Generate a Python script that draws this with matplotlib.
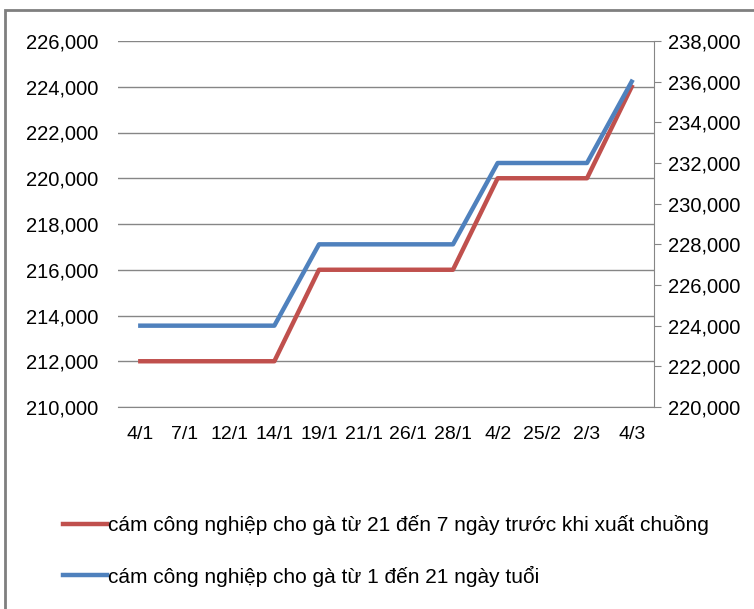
import matplotlib.pyplot as plt
from matplotlib.patches import Rectangle

dates = ['4/1', '7/1', '12/1', '14/1', '19/1', '21/1', '26/1', '28/1', '4/2', '25/2', '2/3', '4/3']
gia_21_7 = [212000, 212000, 212000, 212000, 216000, 216000, 216000, 216000, 220000, 220000, 220000, 224000]
gia_1_21 = [224000, 224000, 224000, 224000, 228000, 228000, 228000, 228000, 232000, 232000, 232000, 236000]

plt.rcParams['font.family'] = ['Liberation Sans', 'DejaVu Sans']

red = '#C0504D'
blue = '#4F81BD'
grey = '#868686'

fig = plt.figure(figsize=(7.54, 6.09), dpi=100)
fig.patches.append(Rectangle((5/754, -0.1), 1.2, 1 - 10/609 + 0.1, transform=fig.transFigure,
                             fill=False, edgecolor='#7f7f7f', linewidth=2))

ax = fig.add_axes([118/754, 1 - 407/609, 536/754, 366/609])
ax2 = ax.twinx()
x = list(range(len(dates)))

ax.plot(x, gia_21_7, color=red, linewidth=3.2, label='cám công nghiệp cho gà từ 21 đến 7 ngày trước khi xuất chuồng')
ax2.plot(x, gia_1_21, color=blue, linewidth=3.2, label='cám công nghiệp cho gà từ 1 đến 21 ngày tuổi')

ax.set_xlim(-0.5, 11.5)
ax.set_ylim(210000, 226000)
ax2.set_ylim(220000, 238000)
ax.set_yticks(range(210000, 226001, 2000))
ax2.set_yticks(range(220000, 238001, 2000))
ax.set_yticklabels([f'{v:,}' for v in range(210000, 226001, 2000)])
ax2.set_yticklabels([f'{v:,}' for v in range(220000, 238001, 2000)])
ax.set_xticks(x)
ax.set_xticklabels(dates)

ax.grid(axis='y', color=grey, linewidth=1)
ax.set_axisbelow(True)
for a in (ax, ax2):
    for s in ['top', 'left', 'bottom']:
        a.spines[s].set_visible(False)
ax.spines['right'].set_visible(False)
ax.spines['bottom'].set_visible(True)
ax.spines['bottom'].set_color(grey)
ax2.spines['right'].set_color(grey)
ax.tick_params(axis='y', length=0, labelsize=14.5, pad=14)
ax.tick_params(axis='x', length=0, labelsize=14, pad=14)
ax2.tick_params(axis='y', length=5, color=grey, labelsize=14.5, pad=5)

h1, l1 = ax.get_legend_handles_labels()
h2, l2 = ax2.get_legend_handles_labels()
fig.legend(h1 + h2, l1 + l2, loc='center left', bbox_to_anchor=(44/754, 1 - 551/609),
           frameon=False, fontsize=15, handlelength=2.1, handletextpad=0.05, labelspacing=1.45)

fig.savefig('out.png', dpi=100)
